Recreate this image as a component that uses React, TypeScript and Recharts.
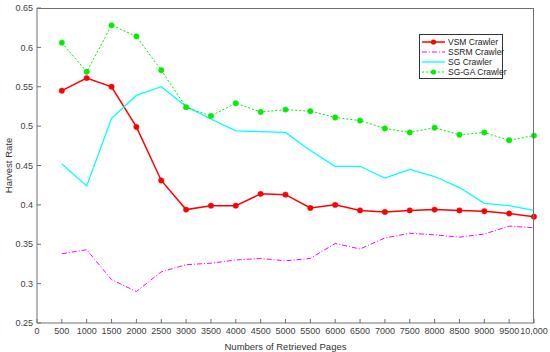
import React from "react";
import { LineChart, Line, XAxis, YAxis, Legend, Label } from "recharts";

const pages = [
  500, 1000, 1500, 2000, 2500, 3000, 3500, 4000, 4500, 5000, 5500, 6000, 6500,
  7000, 7500, 8000, 8500, 9000, 9500, 10000,
];
const vsm = [
  0.545, 0.561, 0.55, 0.499, 0.431, 0.394, 0.399, 0.399, 0.414, 0.413, 0.396,
  0.4, 0.393, 0.391, 0.393, 0.394, 0.393, 0.392, 0.389, 0.385,
];
const ssrm = [
  0.338, 0.343, 0.305, 0.29, 0.315, 0.324, 0.326, 0.33, 0.332, 0.329, 0.332,
  0.351, 0.344, 0.358, 0.364, 0.362, 0.359, 0.363, 0.373, 0.371,
];
const sg = [
  0.452, 0.424, 0.51, 0.539, 0.55, 0.525, 0.509, 0.494, 0.493, 0.492, 0.469,
  0.449, 0.449, 0.434, 0.445, 0.436, 0.422, 0.402, 0.399, 0.393,
];
const sgGa = [
  0.606, 0.569, 0.628, 0.614, 0.571, 0.524, 0.513, 0.529, 0.518, 0.521, 0.519,
  0.511, 0.507, 0.497, 0.492, 0.498, 0.489, 0.492, 0.482, 0.488,
];

const xTicks = [
  0, 500, 1000, 1500, 2000, 2500, 3000, 3500, 4000, 4500, 5000, 5500, 6000,
  6500, 7000, 7500, 8000, 8500, 9000, 9500, 10000,
];
const yTicks = [0.25, 0.3, 0.35, 0.4, 0.45, 0.5, 0.55, 0.6, 0.65];

const data = pages.map((p, i) => ({
  pages: p,
  vsm: vsm[i],
  ssrm: ssrm[i],
  sg: sg[i],
  sgGa: sgGa[i],
}));

const series = [
  { key: "vsm", name: "VSM Crawler", color: "#ff0000", width: 1.5, dash: undefined, dot: true },
  { key: "ssrm", name: "SSRM Crawler", color: "#ff00ff", width: 1, dash: "5 2 1 2", dot: false },
  { key: "sg", name: "SG Crawler", color: "#00ffff", width: 1.3, dash: undefined, dot: false },
  { key: "sgGa", name: "SG-GA Crawler", color: "#00ee00", width: 1, dash: "2 2", dot: true },
];

const font = "'Liberation Sans', Arial, sans-serif";
const axisColor = "#6e6e6e";
const tickStyle = { fontSize: 9, fill: "#404040", fontFamily: font };

const fmtX = (v: number) => (v === 10000 ? "10,000" : String(v));

function LegendBox() {
  return (
    <div
      style={{
        boxSizing: "border-box",
        border: "1px solid #333",
        background: "#fff",
        padding: "2px 3px 2px 1px",
        fontFamily: font,
        fontSize: 8.5,
        color: "#222",
        width: 84,
        height: 45,
        whiteSpace: "nowrap",
      }}
    >
      {series.map((s) => (
        <div key={s.key} style={{ display: "flex", alignItems: "center", height: 10 }}>
          <svg width={25} height={10} style={{ marginRight: 2, flex: "none" }}>
            <line
              x1={1}
              y1={5}
              x2={24}
              y2={5}
              stroke={s.color}
              strokeWidth={s.width}
              strokeDasharray={s.dash}
            />
            {s.dot && <circle cx={12.5} cy={5} r={2.6} fill={s.color} />}
          </svg>
          <span>{s.name}</span>
        </div>
      ))}
    </div>
  );
}

export default function App() {
  return (
    <div style={{ position: "absolute", left: 0, top: 0, background: "#fff" }}>
      <LineChart
        width={550}
        height={352}
        data={data}
        margin={{ top: 8, right: 16, left: 0, bottom: 0 }}
      >
        <XAxis
          dataKey="pages"
          type="number"
          domain={[0, 10000]}
          ticks={xTicks}
          tickFormatter={fmtX}
          interval={0}
          height={29}
          tick={tickStyle}
          tickSize={-4}
          tickMargin={9}
          stroke={axisColor}
        >
          <Label
            value="Numbers of Retrieved Pages"
            position="insideBottom"
            offset={2}
            style={{ fontSize: 9.5, fill: "#333", fontFamily: font }}
          />
        </XAxis>
        <YAxis
          type="number"
          domain={[0.25, 0.65]}
          ticks={yTicks}
          interval={0}
          width={37}
          tick={tickStyle}
          tickSize={-4}
          tickMargin={8}
          stroke={axisColor}
        >
          <Label
            value="Harvest Rate"
            angle={-90}
            position="insideLeft"
            offset={9}
            style={{ fontSize: 9.5, fill: "#333", fontFamily: font, textAnchor: "middle" }}
          />
        </YAxis>
        <Legend
          layout="vertical"
          align="center"
          verticalAlign="middle"
          content={() => <LegendBox />}
          wrapperStyle={{ left: 419, top: 34, width: 84, height: 45 }}
        />
        {series.map((s) => (
          <Line
            key={s.key}
            type="linear"
            dataKey={s.key}
            name={s.name}
            stroke={s.color}
            strokeWidth={s.width}
            strokeDasharray={s.dash}
            dot={s.dot ? { r: 2.7, fill: s.color, stroke: s.color, strokeWidth: 0.5, strokeDasharray: "" } : false}
            activeDot={false}
            isAnimationActive={false}
          />
        ))}
      </LineChart>
      {/* top and right edges of the axes box */}
      <div
        style={{
          position: "absolute",
          left: 37,
          top: 8,
          width: 497,
          height: 315,
          boxSizing: "border-box",
          borderTop: `1px solid ${axisColor}`,
          borderRight: `1px solid ${axisColor}`,
          pointerEvents: "none",
        }}
      />
    </div>
  );
}
